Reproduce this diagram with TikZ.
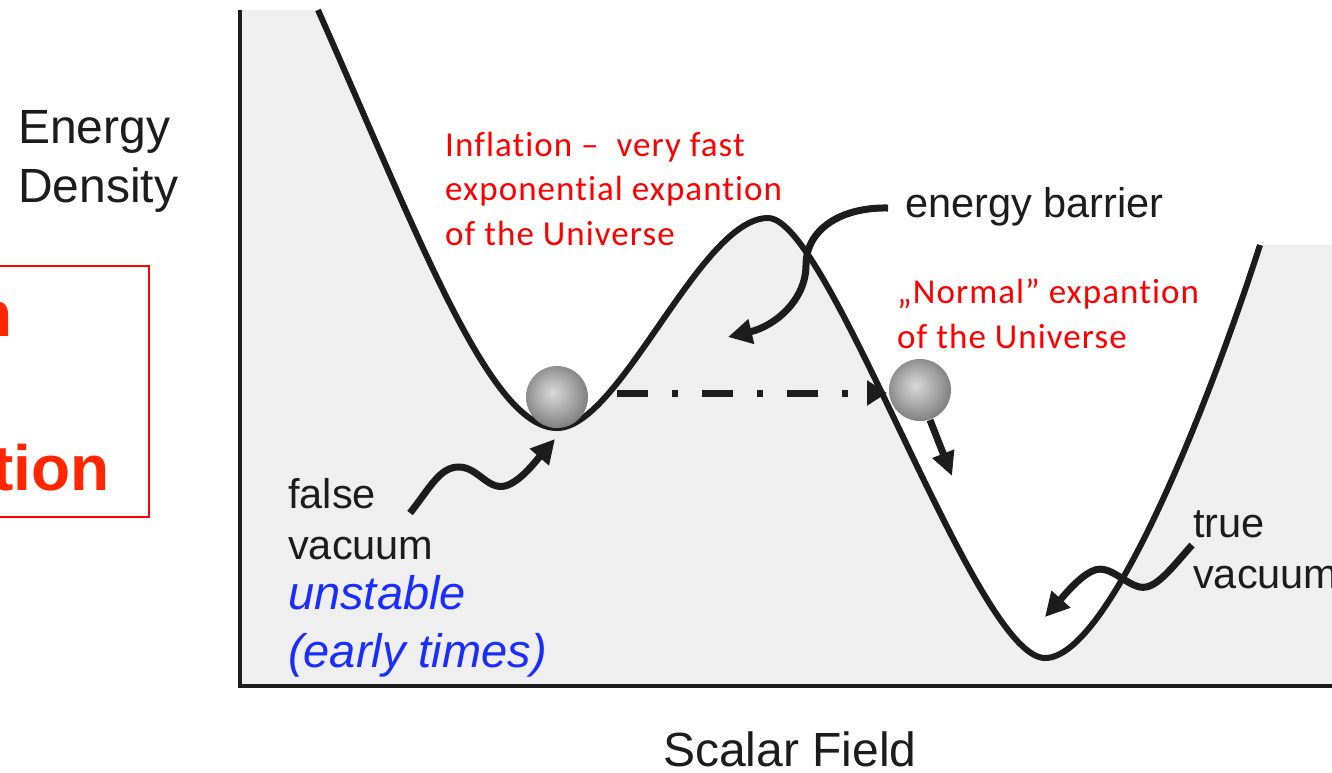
\documentclass[tikz,border=0pt]{standalone}
\usepackage{fontspec}
\setmainfont{Liberation Sans}
\newfontfamily\calibri[LetterSpace=3,Ligatures=NoCommon]{Carlito}
\usetikzlibrary{arrows.meta}
\definecolor{bgray}{RGB}{239,239,239}
\definecolor{ink}{RGB}{28,28,28}
\definecolor{redtxt}{RGB}{255,0,0}
\definecolor{boxred}{RGB}{255,38,0}
\definecolor{bluetxt}{RGB}{25,45,255}
\pgfdeclareradialshading{ballshade}{\pgfpoint{-4bp}{4bp}}{color(0bp)=(black!15); color(16bp)=(black!35); color(36bp)=(black!62); color(45bp)=(black!84); color(50bp)=(black!92)}
\begin{document}
\begin{tikzpicture}[x=1pt,y=-1pt,
  lbl/.style={font=\fontsize{41.5}{51}\selectfont, text=ink, inner sep=0pt, align=left},
  biglbl/.style={font=\fontsize{48}{59}\selectfont, text=ink, inner sep=0pt, align=left},
  bluelbl/.style={font=\itshape\fontsize{47}{58}\selectfont, text=bluetxt, inner sep=0pt, align=left},
  redlbl/.style={font=\calibri\fontsize{35}{45}\selectfont, text=redtxt, inner sep=0pt, align=left},
  boxlbl/.style={font=\bfseries\fontsize{64}{77}\selectfont, text=boxred, inner sep=0pt},
  potential/.style={line width=6pt, draw=ink, line join=round},
  axisline/.style={line width=4pt, draw=ink},
  fatarrow/.style={line width=7pt, draw=ink, -{Triangle[length=24pt,width=24pt]}},
  ball/.style={circle, inner sep=0pt, minimum size=62pt, shading=ballshade}
]
\clip (0,0) rectangle (1332,772);
\fill[white] (0,0) rectangle (1332,772);

% red box (cut at left edge)
\draw[red, line width=2pt] (-10,266) rectangle (149,517);
\node[boxlbl, anchor=base east] (boxn) at (13,336) {n};
\node[boxlbl, anchor=base east] (boxtion) at (110,490) {tion};

% shaded area under the potential
\fill[bgray] (240,10) -- (318,10)
  .. controls (420,240) and (490,428) .. (557,428)
  .. controls (620,428) and (700,218) .. (768,218)
  .. controls (830,218) and (975,658) .. (1045,658)
  .. controls (1110,658) and (1210,400) .. (1260,245)
  -- (1332,245) -- (1332,686) -- (240,686) -- cycle;

% axes
\coordinate (origin) at (240,686);
\coordinate (ytop) at (240,10);
\coordinate (xend) at (1340,686);
\draw[axisline] (ytop) -- (origin) -- (xend);

% potential curve
\draw[potential] (318,10)
  .. controls (420,240) and (490,428) .. (557,428)
  .. controls (620,428) and (700,218) .. (768,218)
  .. controls (830,218) and (975,658) .. (1045,658)
  .. controls (1110,658) and (1210,400) .. (1260,245);

% balls
\node[ball] (ball1) at (557,397) {};
\node[ball] (ball2) at (920,390) {};

% tunnelling arrow
\coordinate (tstart) at (617,393);
\coordinate (tend) at (887,393);
\draw[line width=7pt, draw=ink, dash pattern=on 31pt off 24pt on 6pt off 24pt,
  -{Triangle[length=20pt,width=24pt]}] (tstart) -- (tend);

% rolling arrow
\coordinate (rstart) at (930,420);
\coordinate (rend) at (952,476);
\draw[line width=7pt, draw=ink, -{Triangle[length=24pt,width=22pt]}] (rstart) -- (rend);

% labels
\node[biglbl, anchor=base west] (energy) at (18,143) {Energy};
\node[biglbl, anchor=base west] (density) at (18,202) {Density};
\node[biglbl, anchor=base west] (scalar) at (663,766) {Scalar Field};

\node[redlbl, anchor=base west] (infl1) at (445,156) {Inflation –~ very fast};
\node[redlbl, anchor=base west] (infl2) at (445,200) {exponential expantion};
\node[redlbl, anchor=base west] (infl3) at (445,245) {of the Universe};

\node[redlbl, anchor=base west] (norm1) at (897,303) {„Normal” expantion};
\node[redlbl, anchor=base west] (norm2) at (897,348) {of the Universe};

\node[lbl, anchor=base west] (barrier) at (905,217) {energy barrier};

\node[lbl, anchor=base west] (false1) at (288,508) {false};
\node[lbl, anchor=base west] (false2) at (288,559) {vacuum};
\node[bluelbl, anchor=base west] (unst) at (288,609) {unstable};
\node[bluelbl, anchor=base west] (early) at (288,667) {(early times)};

\node[lbl, anchor=base west] (true1) at (1193,537) {true};
\node[lbl, anchor=base west] (true2) at (1193,588) {vacuum};

% pointer arrows
\coordinate (bstart) at (888,208);
\coordinate (fstart) at (410,513);
\coordinate (tvstart) at (1192,545);
\draw[fatarrow] (bstart)
  .. controls (840,207) and (806,230) .. (806,265)
  .. controls (806,300) and (775,326) .. (728,337);
\draw[fatarrow] (fstart)
  .. controls (430,488) and (440,466) .. (460,467)
  .. controls (478,468) and (488,490) .. (505,486)
  .. controls (520,482) and (535,462) .. (555,439);
\draw[fatarrow] (tvstart)
  .. controls (1170,570) and (1155,590) .. (1140,587)
  .. controls (1125,584) and (1110,565) .. (1095,570)
  .. controls (1080,575) and (1062,598) .. (1045,617);
\end{tikzpicture}
\end{document}
